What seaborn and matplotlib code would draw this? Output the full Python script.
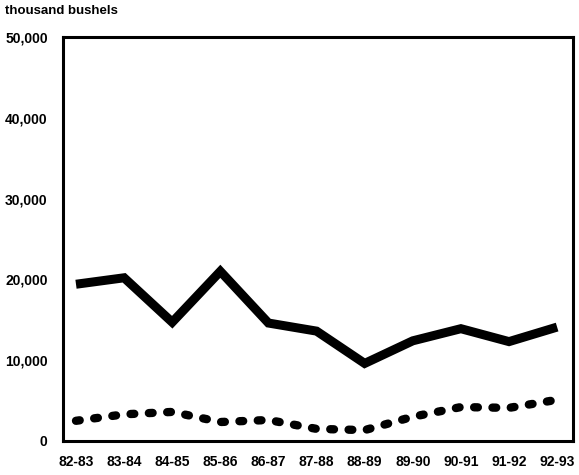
import matplotlib
matplotlib.use("Agg")
import matplotlib.pyplot as plt
import seaborn as sns
import pandas as pd

years = ["82-83", "83-84", "84-85", "85-86", "86-87", "87-88",
         "88-89", "89-90", "90-91", "91-92", "92-93"]
solid_series = [19400, 20200, 14700, 21000, 14600, 13600,
                9600, 12400, 13900, 12300, 14100]
dotted_series = [2500, 3300, 3600, 2350, 2600, 1500,
                 1350, 3000, 4200, 4100, 5100]
y_ticks = [0, 10000, 20000, 30000, 40000, 50000]
y_tick_labels = ["0", "10,000", "20,000", "30,000", "40,000", "50,000"]
unit_label = "thousand bushels"

sns.set_theme(style="white")
plt.rcParams["font.family"] = ["Liberation Sans", "DejaVu Sans"]

df = pd.DataFrame({
    "pos": list(range(len(years))) * 2,
    "value": solid_series + dotted_series,
    "series": ["solid"] * len(years) + ["dotted"] * len(years),
})

fig = plt.figure(figsize=(5.79, 4.75), dpi=100)
ax = fig.add_axes([63 / 579, 34 / 475, 510 / 579, 404 / 475])

sns.lineplot(data=df[df.series == "solid"], x="pos", y="value", ax=ax,
             color="black", linewidth=6.5, solid_joinstyle="miter",
             solid_capstyle="butt", legend=False)
sns.lineplot(data=df[df.series == "dotted"], x="pos", y="value", ax=ax,
             color="black", linewidth=6.0, legend=False)
ax.lines[-1].set_dashes((0.45, 1.75))
ax.lines[-1].set_dash_capstyle("round")

ax.set_xlim(-0.27, len(years) - 1 + 0.33)
ax.set_ylim(0, 50000)
ax.set_xticks(range(len(years)))
ax.set_xticklabels(years)
ax.set_yticks(y_ticks)
ax.set_yticklabels(y_tick_labels)
ax.set_xlabel("")
ax.set_ylabel("")

for side in ["left", "right", "top", "bottom"]:
    ax.spines[side].set_visible(True)
    ax.spines[side].set_color("black")
    ax.spines[side].set_linewidth(2.2)

ax.tick_params(axis="x", direction="in", length=6, width=1, color="black",
               pad=10, labelsize=10)
ax.tick_params(axis="y", direction="in", length=5, width=1, color="black",
               pad=11, labelsize=10)
for lab in ax.get_xticklabels() + ax.get_yticklabels():
    lab.set_fontweight("bold")
    lab.set_color("black")

fig.text(5 / 579, 1 - 5 / 475, unit_label, ha="left", va="top",
         fontsize=9.5, fontweight="bold", color="black")

fig.savefig("out.png", dpi=100)
